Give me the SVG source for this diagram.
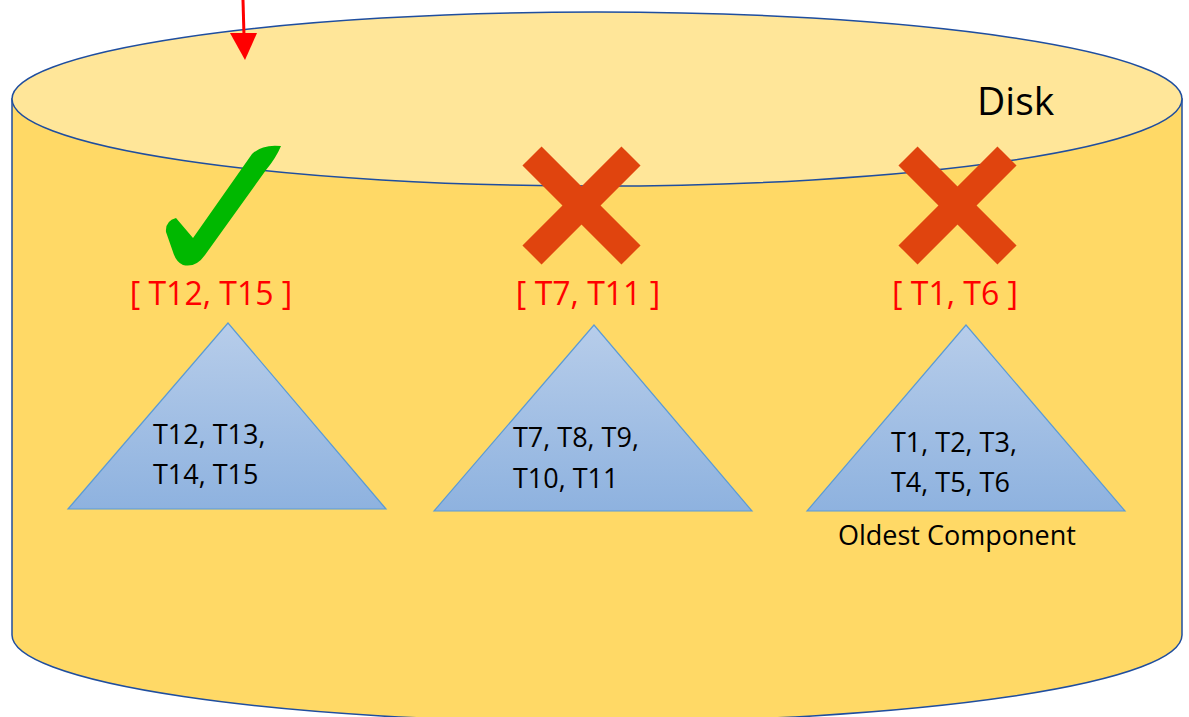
<svg xmlns="http://www.w3.org/2000/svg" width="1189" height="717" viewBox="0 0 1189 717">
  <defs>
    <linearGradient id="triFill" x1="0" y1="0" x2="0" y2="1">
      <stop offset="0" stop-color="#B7CDEA"/>
      <stop offset="1" stop-color="#8EB2DF"/>
    </linearGradient>
    <style>
      .tri { fill: url(#triFill); stroke: #5B9BD5; stroke-width: 1.2; }
      .body { font-family: "Open Sans", "Liberation Sans", Arial, sans-serif; font-size: 27px; fill: #000; }
      .range { font-family: "Open Sans", "Liberation Sans", Arial, sans-serif; font-size: 32px; fill: #FF0000; text-anchor: middle; }
      .cross { stroke: #E0440E; stroke-width: 27; stroke-linecap: butt; }
    </style>
  </defs>

  <!-- disk cylinder -->
  <g id="disk">
    <path d="M12,99 V635 A585,87 0 0 0 1182,635 V99 Z" fill="#FFD966" stroke="#1F4E9F" stroke-width="1.5"/>
    <ellipse cx="597" cy="99" rx="585" ry="87" fill="#FFE699" stroke="#1F4E9F" stroke-width="1.5"/>
    <text x="977" y="115" font-family="Open Sans, Liberation Sans, Arial, sans-serif" font-size="39" fill="#000">Disk</text>
  </g>

  <!-- incoming arrow -->
  <g id="connectors">
    <line x1="243" y1="0" x2="244" y2="36" stroke="#FF0000" stroke-width="3"/>
    <polygon points="230,33 257,33 245,60" fill="#FF0000"/>
  </g>

  <!-- newest component -->
  <g id="component-t12-t15">
    <path d="M166,232 Q165,221 176,218 L193,238 L252,154 Q262,144 281,146 Q276,158 266,170 L205,255 Q196,268 183,265 Q176,262 173,252 Z" fill="#00B800"/>
    <text class="range" x="211" y="305">[ T12, T15 ]</text>
    <polygon class="tri" points="228,323 68,509 386,509"/>
    <text class="body" x="153" y="444">T12, T13,</text>
    <text class="body" x="153" y="484">T14, T15</text>
  </g>

  <!-- middle component -->
  <g id="component-t7-t11">
    <line class="cross" x1="532" y1="156" x2="631" y2="255"/>
    <line class="cross" x1="631" y1="156" x2="532" y2="255"/>
    <text class="range" x="588" y="305">[ T7, T11 ]</text>
    <polygon class="tri" points="594,325 434,511 752,511"/>
    <text class="body" x="513" y="447">T7, T8, T9,</text>
    <text class="body" x="513" y="488">T10, T11</text>
  </g>

  <!-- oldest component -->
  <g id="component-t1-t6">
    <line class="cross" x1="908" y1="156" x2="1007" y2="255"/>
    <line class="cross" x1="1007" y1="156" x2="908" y2="255"/>
    <text class="range" x="955" y="305">[ T1, T6 ]</text>
    <polygon class="tri" points="966,325 807,511 1125,511"/>
    <text class="body" x="891" y="452">T1, T2, T3,</text>
    <text class="body" x="891" y="492">T4, T5, T6</text>
    <text class="body" x="838" y="545">Oldest Component</text>
  </g>
</svg>
